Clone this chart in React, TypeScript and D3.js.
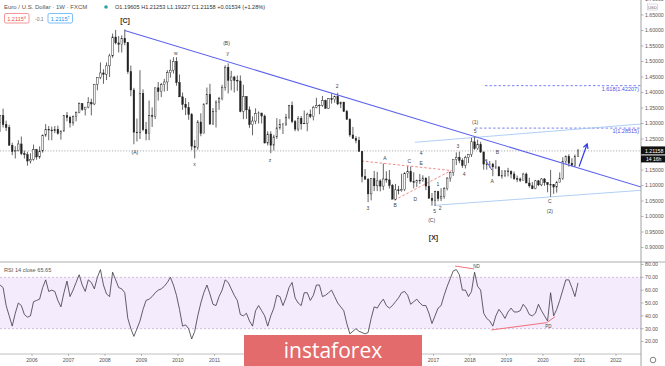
import React from "react";
import * as d3 from "d3";

// monthly bars, Feb 2005 .. Dec 2020 (open = previous close)
const firstOpen = 1.3035;
const closes = [
  1.3257, 1.2963, 1.2868, 1.2297, 1.2098, 1.2125, 1.2340, 1.2025, 1.1995, 1.1790, 1.1840,
  1.2155, 1.1920, 1.2115, 1.2625, 1.2815, 1.2790, 1.2765, 1.2815, 1.2680, 1.2755, 1.3250, 1.3200,
  1.3020, 1.3230, 1.3355, 1.3650, 1.3450, 1.3530, 1.3680, 1.3630, 1.4265, 1.4490, 1.4630, 1.4590,
  1.4860, 1.5180, 1.5790, 1.5600, 1.5550, 1.5750, 1.5610, 1.4670, 1.4080, 1.2720, 1.2700, 1.3970,
  1.2800, 1.2670, 1.3250, 1.3230, 1.4150, 1.4030, 1.4250, 1.4340, 1.4640, 1.4720, 1.5000, 1.4320,
  1.3860, 1.3620, 1.3510, 1.3290, 1.2270, 1.2230, 1.3050, 1.2680, 1.3630, 1.3940, 1.2980, 1.3380,
  1.3690, 1.3800, 1.4170, 1.4810, 1.4390, 1.4500, 1.4390, 1.4370, 1.3390, 1.3870, 1.3440, 1.2960,
  1.3080, 1.3320, 1.3340, 1.3240, 1.2370, 1.2660, 1.2300, 1.2570, 1.2860, 1.2960, 1.2980, 1.3190,
  1.3580, 1.3060, 1.2820, 1.3170, 1.2990, 1.3010, 1.3300, 1.3220, 1.3520, 1.3580, 1.3590, 1.3740,
  1.3490, 1.3800, 1.3770, 1.3870, 1.3630, 1.3690, 1.3390, 1.3130, 1.2630, 1.2520, 1.2450, 1.2100,
  1.1290, 1.1200, 1.0730, 1.1220, 1.0990, 1.1150, 1.0980, 1.1210, 1.1180, 1.1000, 1.0560, 1.0860,
  1.0830, 1.0870, 1.1380, 1.1450, 1.1130, 1.1100, 1.1170, 1.1160, 1.1240, 1.0980, 1.0590, 1.0520,
  1.0800, 1.0580, 1.0650, 1.0900, 1.1240, 1.1420, 1.1840, 1.1910, 1.1810, 1.1650, 1.1900, 1.2000,
  1.2410, 1.2190, 1.2320, 1.2080, 1.1690, 1.1680, 1.1690, 1.1600, 1.1600, 1.1310, 1.1320, 1.1470,
  1.1450, 1.1370, 1.1220, 1.1210, 1.1170, 1.1370, 1.1080, 1.0990, 1.0900, 1.1150, 1.1020, 1.1210,
  1.1090, 1.1030, 1.1030, 1.0950, 1.1100, 1.1230, 1.1780, 1.1940, 1.1720, 1.1650, 1.1930, 1.21158,
];
const highs = [
  1.3270, 1.3480, 1.3090, 1.2960, 1.2380, 1.2270, 1.2460, 1.2580, 1.2130, 1.2090, 1.2040,
  1.2320, 1.2180, 1.2260, 1.2640, 1.2980, 1.2920, 1.2900, 1.2920, 1.2930, 1.2780, 1.3260, 1.3370,
  1.3250, 1.3260, 1.3390, 1.3680, 1.3630, 1.3530, 1.3850, 1.3800, 1.4280, 1.4500, 1.4970, 1.4750,
  1.4970, 1.5250, 1.5900, 1.6020, 1.5820, 1.5840, 1.6038, 1.5630, 1.4870, 1.4150, 1.3160, 1.4720,
  1.4100, 1.3050, 1.3740, 1.3520, 1.4160, 1.4340, 1.4310, 1.4440, 1.4720, 1.5060, 1.5140, 1.5140,
  1.4580, 1.4000, 1.3820, 1.3690, 1.3340, 1.2470, 1.3110, 1.3330, 1.3640, 1.4160, 1.4280, 1.3500,
  1.3750, 1.3860, 1.4250, 1.4880, 1.4940, 1.4700, 1.4540, 1.4550, 1.4550, 1.4250, 1.3870, 1.3550,
  1.3230, 1.3490, 1.3390, 1.3290, 1.3290, 1.2750, 1.2750, 1.2640, 1.3170, 1.3140, 1.3020, 1.3310,
  1.3600, 1.3710, 1.3110, 1.3240, 1.3240, 1.3420, 1.3350, 1.3450, 1.3570, 1.3830, 1.3620, 1.3890,
  1.3770, 1.3820, 1.3970, 1.3900, 1.3993, 1.3700, 1.3700, 1.3440, 1.3170, 1.2890, 1.2590, 1.2570,
  1.2110, 1.1530, 1.1240, 1.1220, 1.1470, 1.1440, 1.1200, 1.1710, 1.1460, 1.1500, 1.1050, 1.1050,
  1.0990, 1.1380, 1.1430, 1.1620, 1.1610, 1.1430, 1.1190, 1.1370, 1.1330, 1.1260, 1.1300, 1.0760,
  1.0830, 1.0830, 1.0910, 1.0950, 1.1270, 1.1450, 1.1780, 1.2070, 1.2090, 1.1880, 1.1960, 1.2020,
  1.2540, 1.2560, 1.2480, 1.2410, 1.2100, 1.1850, 1.1790, 1.1730, 1.1820, 1.1620, 1.1500, 1.1490,
  1.1570, 1.1490, 1.1450, 1.1320, 1.1260, 1.1410, 1.1420, 1.1250, 1.1110, 1.1180, 1.1180, 1.1240,
  1.1240, 1.1100, 1.1500, 1.1040, 1.1150, 1.1420, 1.1910, 1.1970, 1.2010, 1.1880, 1.2000, 1.2180,
];
const lows = [
  1.2730, 1.2870, 1.2760, 1.2295, 1.1980, 1.1870, 1.2100, 1.1980, 1.1870, 1.1640, 1.1710,
  1.1800, 1.1830, 1.1860, 1.2060, 1.2570, 1.2460, 1.2460, 1.2690, 1.2640, 1.2480, 1.2740, 1.3070,
  1.2870, 1.2930, 1.3070, 1.3330, 1.3410, 1.3260, 1.3490, 1.3260, 1.3590, 1.4070, 1.4430, 1.4280,
  1.4400, 1.4500, 1.5120, 1.5550, 1.5290, 1.5290, 1.5520, 1.4600, 1.3880, 1.2330, 1.2420, 1.2500,
  1.2750, 1.2460, 1.2460, 1.2890, 1.3140, 1.3740, 1.3850, 1.4030, 1.4050, 1.4480, 1.4610, 1.4220,
  1.3860, 1.3440, 1.3270, 1.3120, 1.2140, 1.1877, 1.2150, 1.2590, 1.2690, 1.3620, 1.2970, 1.2970,
  1.2870, 1.3440, 1.3750, 1.4060, 1.3970, 1.4070, 1.4000, 1.4050, 1.3360, 1.3140, 1.3150, 1.2860,
  1.2620, 1.2980, 1.3000, 1.3000, 1.2360, 1.2290, 1.2042, 1.2130, 1.2500, 1.2800, 1.2660, 1.2920,
  1.3140, 1.3010, 1.2750, 1.2750, 1.2800, 1.2990, 1.2750, 1.3170, 1.3100, 1.3490, 1.3300, 1.3540,
  1.3480, 1.3480, 1.3640, 1.3670, 1.3590, 1.3500, 1.3370, 1.3130, 1.2570, 1.2500, 1.2360, 1.2100,
  1.1100, 1.1260, 1.0462, 1.0520, 1.0820, 1.0820, 1.0810, 1.0850, 1.1090, 1.0900, 1.0560, 1.0520,
  1.0710, 1.0800, 1.0820, 1.1240, 1.1100, 1.0910, 1.0950, 1.1050, 1.1120, 1.0850, 1.0570, 1.0350,
  1.0340, 1.0490, 1.0500, 1.0570, 1.0840, 1.1120, 1.1310, 1.1660, 1.1720, 1.1570, 1.1550, 1.1720,
  1.1920, 1.2150, 1.2150, 1.2050, 1.1510, 1.1510, 1.1570, 1.1300, 1.1530, 1.1300, 1.1220, 1.1270,
  1.1290, 1.1230, 1.1180, 1.1110, 1.1110, 1.1180, 1.1100, 1.0930, 1.0880, 1.0880, 1.0980, 1.0980,
  1.0990, 1.0780, 1.0636, 1.0730, 1.0770, 1.1110, 1.1180, 1.1700, 1.1610, 1.1620, 1.1600, 1.1920,
];
const rsi = [
  64, 62, 48, 40, 32, 42, 50, 48, 41, 39, 40,
  51, 52, 53, 62, 68, 59, 60, 59, 52, 47, 58, 67,
  55, 60, 66, 72, 64, 59, 68, 66, 61, 70, 76, 64,
  57, 55, 74, 68, 62, 61, 58, 38, 30, 24, 30, 36,
  45, 52, 53, 55, 58, 60, 61, 63, 66, 70, 64, 56,
  45, 32, 33, 30, 22, 28, 40, 50, 58, 64, 57, 49,
  48, 55, 60, 68, 66, 61, 56, 52, 41, 40, 42, 36,
  32, 44, 48, 44, 40, 32, 40, 46, 56, 55, 48, 54,
  62, 66, 54, 50, 48, 58, 58, 52, 56, 64, 64, 55,
  56, 58, 60, 55, 50, 47, 44, 34, 26, 28, 30, 28,
  27, 26, 27, 38, 47, 46, 50, 53, 48, 46, 48, 51,
  54, 58, 59, 56, 49, 51, 53, 50, 48, 48, 42, 34,
  40, 46, 48, 56, 63, 69, 75, 76, 72, 60, 60, 55,
  59, 74, 63, 60, 42, 38, 36, 32, 40, 45, 42, 38,
  43, 46, 43, 43, 44, 49, 46, 41, 40, 42, 49, 44,
  40, 36, 58, 40, 45, 52, 60, 68, 68, 62, 55, 65.65,
];

// year labels left visible around the watermark
const years = [2006, 2007, 2008, 2009, 2010, 2011, 2017, 2018, 2019, 2020, 2021, 2022];
const priceTicks = [1.7, 1.65, 1.6, 1.55, 1.5, 1.45, 1.4, 1.35, 1.3, 1.25, 1.15, 1.1, 1.05, 1.0, 0.95, 0.9];
const rsiTicks = [80, 70, 60, 50, 40, 30, 20];
const lastPrice = 1.21158;

// wave counts: [text, year, price]
const waveLabels: [string, number, number][] = [
  ["w", 2009.94, 1.526], ["(B)", 2011.33, 1.559], ["y", 2011.36, 1.526],
  ["(A)", 2008.82, 1.206], ["x", 2010.45, 1.169], ["z", 2012.52, 1.18],
  ["2", 2014.36, 1.421], ["(1)", 2018.14, 1.303], ["5", 2018.14, 1.274],
  ["3", 2017.67, 1.227], ["4", 2016.66, 1.204], ["A", 2015.67, 1.188],
  ["C", 2016.34, 1.177], ["E", 2016.66, 1.172], ["B", 2018.75, 1.207],
  ["4", 2017.84, 1.137], ["A", 2018.61, 1.115], ["1", 2017.12, 1.105],
  ["D", 2016.5, 1.057], ["B", 2015.95, 1.037], ["3", 2015.2, 1.027],
  ["5", 2017.03, 1.018], ["2", 2017.18, 1.027], ["(C)", 2016.95, 0.987],
  ["C", 2020.19, 1.05], ["(2)", 2020.19, 1.016],
];
const bigLabels: [string, number, number][] = [
  ["[C]", 2008.55, 1.631], ["[X]", 2017.0, 0.933],
];

// trend lines: [[year, price], [year, price]]
const mainTrend: [number, number][] = [[2008.54, 1.6], [2022.69, 1.095]];
const upperChannel: [number, number][] = [[2016.49, 1.2394], [2022.69, 1.2984]];
const lowerChannel: [number, number][] = [[2017.04, 1.0361], [2022.69, 1.0845]];
const redUpper: [number, number][] = [[2015.03, 1.179], [2017.49, 1.1484]];
const redLower: [number, number][] = [[2015.93, 1.0532], [2017.49, 1.1484]];
const shortBlue: [number, number][] = [[2018.41, 1.1845], [2018.6, 1.15]];
const arrow: [number, number][] = [[2020.99, 1.1613], [2021.21, 1.2339]];
const fibLevels: [string, number, number][] = [
  ["1.618(1.42207)", 1.42207, 2018.41],
  ["1(1.28515)", 1.28515, 2018.14],
];
const ndLine: [number, number][] = [[2017.59, 78.8], [2018.11, 76.5]];
const pdLine: [number, number][] = [[2018.58, 29], [2020.1, 34.7], [2020.33, 39.3]];

const W = 665;
const AXIS_X = 641;
const SEP_Y = 262;
const TIME_Y = 354;
const font = "'Liberation Sans', Arial, sans-serif";

export default function App() {
  const x = d3.scaleLinear().domain([2006, 2022]).range([32, 616]);
  const yP = d3.scaleLinear().domain([0.9, 1.65]).range([247.5, 15]);
  const yR = d3.scaleLinear().domain([30, 70]).range([328.7, 277.3]);
  const monthDate = (i: number) => 2005 + (1 + i + 0.5) / 12;

  const bars = closes.map((c, i) => ({
    d: monthDate(i),
    o: i === 0 ? firstOpen : closes[i - 1],
    h: highs[i],
    l: lows[i],
    c,
  }));

  const pLine = (pts: [number, number][]) =>
    d3.line<[number, number]>().x((p) => x(p[0])).y((p) => yP(p[1]))(pts) || "";
  const rLine = (pts: [number, number][]) =>
    d3.line<[number, number]>().x((p) => x(p[0])).y((p) => yR(p[1]))(pts) || "";
  const rsiPath =
    d3.line<number>().x((_, i) => x(monthDate(i))).y((v) => yR(v))(rsi) || "";

  const a0 = [x(arrow[0][0]), yP(arrow[0][1])];
  const a1 = [x(arrow[1][0]), yP(arrow[1][1])];
  const ang = Math.atan2(a1[1] - a0[1], a1[0] - a0[0]);
  const head = (da: number) =>
    `${a1[0] - 5 * Math.cos(ang + da)},${a1[1] - 5 * Math.sin(ang + da)}`;

  return (
    <svg width={W} height={366} style={{ position: "absolute", left: 0, top: 0, background: "#fff" }}
      fontFamily={font}>
      <rect width={W} height={366} fill="#fff" />
      <defs>
        <clipPath id="pricePane"><rect x={0} y={0} width={AXIS_X} height={SEP_Y} /></clipPath>
        <clipPath id="rsiPane"><rect x={0} y={SEP_Y} width={AXIS_X} height={TIME_Y - SEP_Y} /></clipPath>
      </defs>

      {/* price pane */}
      <g clipPath="url(#pricePane)">
        <line x1={0} x2={AXIS_X} y1={yP(lastPrice)} y2={yP(lastPrice)} stroke="#9a9a9a"
          strokeWidth={0.8} strokeDasharray="1.2,1.6" />
        {fibLevels.map(([t, p, d0]) => (
          <g key={t}>
            <line x1={x(d0)} x2={AXIS_X} y1={yP(p)} y2={yP(p)} stroke="#5b63f0"
              strokeWidth={0.8} strokeDasharray="2.5,2" />
            <text x={AXIS_X - 2} y={yP(p) + 5} fontSize={5.5} fill="#4a55e6" textAnchor="end">{t}</text>
          </g>
        ))}
        <path d={pLine(upperChannel)} stroke="#9cc3f2" strokeWidth={0.8} fill="none" />
        <path d={pLine(lowerChannel)} stroke="#9cc3f2" strokeWidth={0.8} fill="none" />
        <path d={pLine(redUpper)} stroke="#f07a7a" strokeWidth={0.9} strokeDasharray="2.5,2" fill="none" />
        <path d={pLine(redLower)} stroke="#f07a7a" strokeWidth={0.9} strokeDasharray="2.5,2" fill="none" />

        {bars.map((b, i) => {
          const cx = x(b.d);
          const top = yP(Math.max(b.o, b.c));
          const bot = yP(Math.min(b.o, b.c));
          return (
            <g key={i}>
              <line x1={cx} x2={cx} y1={yP(b.h)} y2={yP(b.l)} stroke="#222" strokeWidth={0.7} />
              <rect x={cx - 0.8} y={top} width={1.6} height={Math.max(0.6, bot - top)}
                fill={b.c >= b.o ? "#fff" : "#222"} stroke="#222" strokeWidth={0.45} />
            </g>
          );
        })}

        <path d={pLine(mainTrend)} stroke="#5c62ee" strokeWidth={1.1} fill="none" />
        <path d={pLine(shortBlue)} stroke="#5c62ee" strokeWidth={1} fill="none" />
        <line x1={a0[0]} y1={a0[1]} x2={a1[0]} y2={a1[1]} stroke="#2f3fe8" strokeWidth={1.2} />
        <polyline points={`${head(0.5)} ${a1[0]},${a1[1]} ${head(-0.5)}`} stroke="#2f3fe8"
          strokeWidth={1.2} fill="none" />

        {waveLabels.map(([t, d, p], i) => (
          <text key={i} x={x(d)} y={yP(p)} dy="0.35em" fontSize={5} fill="#444" textAnchor="middle">{t}</text>
        ))}
        {bigLabels.map(([t, d, p]) => (
          <text key={t} x={x(d)} y={yP(p)} dy="0.35em" fontSize={7} fontWeight="bold" fill="#333"
            textAnchor="middle">{t}</text>
        ))}
      </g>

      {/* header */}
      <text x={4} y={9} fontSize={6} fill="#555">Euro / U.S. Dollar · 1W · FXCM</text>
      <circle cx={106} cy={7} r={1.8} fill="#26a69a" />
      <text x={115} y={9} fontSize={5.6} fill="#333">O1.19605 H1.21253 L1.19227 C1.21158 +0.01534 (+1.28%)</text>
      <rect x={4.5} y={13.5} width={24.5} height={9.5} rx={1.5} fill="#fff" stroke="#ef5350" strokeWidth={0.6} />
      <text x={16.7} y={20.5} fontSize={5.6} fill="#ef5350" textAnchor="middle">1.2115⁸</text>
      <text x={35} y={20.5} fontSize={5} fill="#777">-0.1</text>
      <rect x={48} y={13.5} width={24.5} height={9.5} rx={1.5} fill="#fff" stroke="#2196f3" strokeWidth={0.6} />
      <text x={60.2} y={20.5} fontSize={5.6} fill="#2196f3" textAnchor="middle">1.2115⁷</text>

      {/* RSI pane */}
      <rect x={0} y={yR(70)} width={AXIS_X} height={yR(30) - yR(70)} fill="#f4ebfd" />
      <line x1={0} x2={AXIS_X} y1={yR(70)} y2={yR(70)} stroke="#bba9cc" strokeWidth={0.7} strokeDasharray="2,2" />
      <line x1={0} x2={AXIS_X} y1={yR(30)} y2={yR(30)} stroke="#bba9cc" strokeWidth={0.7} strokeDasharray="2,2" />
      <g clipPath="url(#rsiPane)">
        <path d={rsiPath} stroke="#3d3747" strokeWidth={0.8} fill="none" />
        <path d={rLine(ndLine)} stroke="#f0626c" strokeWidth={0.9} fill="none" />
        <path d={rLine(pdLine)} stroke="#f0626c" strokeWidth={0.9} fill="none" />
        <text x={x(2018.18)} y={yR(78.8)} dy="0.35em" fontSize={4.5} fill="#444" textAnchor="middle">ND</text>
        <text x={x(2020.15)} y={yR(32.1)} dy="0.35em" fontSize={4.5} fill="#444" textAnchor="middle">PD</text>
      </g>
      <text x={4} y={272} fontSize={5.6} fill="#555">RSI 14 close  65.65</text>

      {/* frame */}
      <line x1={0} x2={W} y1={SEP_Y} y2={SEP_Y} stroke="#9a9a9a" strokeWidth={0.8} />
      <line x1={0} x2={AXIS_X} y1={TIME_Y} y2={TIME_Y} stroke="#b0b0b0" strokeWidth={0.8} />
      <line x1={AXIS_X} x2={AXIS_X} y1={0} y2={366} stroke="#8a8a8a" strokeWidth={0.8} />

      {/* price axis */}
      {priceTicks.map((p) => (
        <g key={p}>
          <line x1={AXIS_X} x2={AXIS_X + 2.5} y1={yP(p)} y2={yP(p)} stroke="#8a8a8a" strokeWidth={0.6} />
          <text x={AXIS_X + 4} y={yP(p)} dy="0.35em" fontSize={5.2} fill="#555">{p.toFixed(5)}</text>
        </g>
      ))}
      <rect x={647.5} y={4} width={10} height={6} fill="#fff" stroke="#bbb" strokeWidth={0.5} />
      <text x={652.5} y={8.7} fontSize={4.2} fill="#666" textAnchor="middle">USD</text>
      <rect x={AXIS_X} y={yP(lastPrice) - 4.5} width={24} height={8} fill="#111" />
      <text x={AXIS_X + 4} y={yP(lastPrice)} dy="0.35em" fontSize={5.2} fill="#fff">{lastPrice.toFixed(5)}</text>
      <rect x={AXIS_X} y={yP(lastPrice) + 4.5} width={24} height={7} fill="#111" />
      <text x={AXIS_X + 5} y={yP(lastPrice) + 8} dy="0.35em" fontSize={5} fill="#fff">14 16h</text>

      {/* rsi axis */}
      {rsiTicks.map((v) => (
        <g key={v}>
          <line x1={AXIS_X} x2={AXIS_X + 2.5} y1={yR(v)} y2={yR(v)} stroke="#8a8a8a" strokeWidth={0.6} />
          <text x={AXIS_X + 4} y={yR(v)} dy="0.35em" fontSize={5.2} fill="#555">{v.toFixed(2)}</text>
        </g>
      ))}

      {/* time axis */}
      {years.map((yr) => (
        <g key={yr}>
          <line x1={x(yr)} x2={x(yr)} y1={TIME_Y} y2={TIME_Y + 2} stroke="#8a8a8a" strokeWidth={0.6} />
          <text x={x(yr)} y={360} dy="0.35em" fontSize={5.2} fill="#555" textAnchor="middle">{yr}</text>
        </g>
      ))}
      <circle cx={653} cy={360} r={2.8} fill="none" stroke="#666" strokeWidth={0.8} />

      {/* watermark */}
      <rect x={244} y={335} width={178} height={31} fill="#e46b6b" />
      <text x={333} y={358} fontSize={21} fill="#fff" textAnchor="middle" fontFamily="'Open Sans', sans-serif">instaforex</text>
    </svg>
  );
}
